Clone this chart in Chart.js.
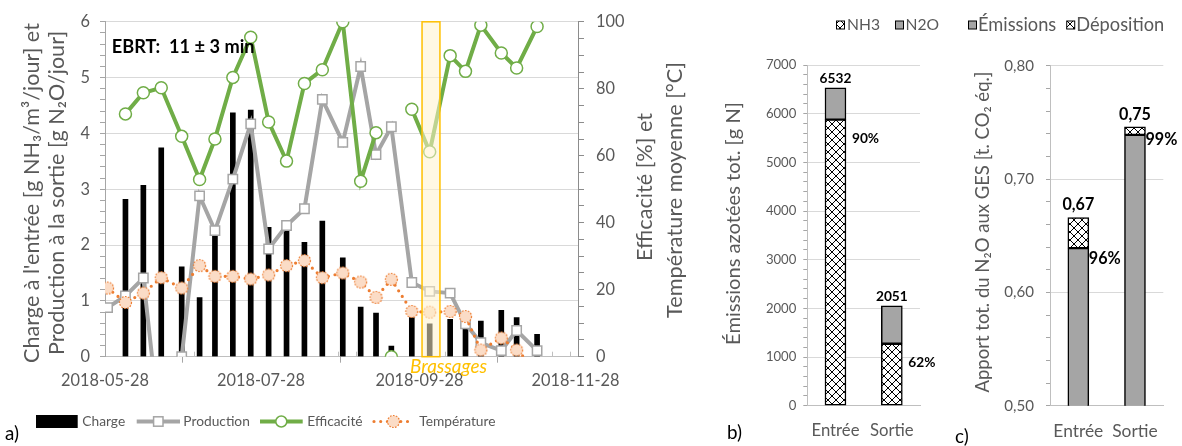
<!DOCTYPE html>
<html><head><meta charset="utf-8">
<script src="https://cdn.jsdelivr.net/npm/chart.js@4.4.1/dist/chart.umd.min.js"></script>
<style>
html,body{margin:0;padding:0;background:#fff;}
body{width:1182px;height:446px;position:relative;overflow:hidden;}
.c{position:absolute;top:0;height:446px;}
canvas{display:block;}
</style></head><body>
<div class="c" style="left:0;width:700px"><canvas id="ca" width="700" height="446"></canvas></div>
<div class="c" style="left:700px;width:250px"><canvas id="cb" width="250" height="446"></canvas></div>
<div class="c" style="left:950px;width:232px"><canvas id="cc" width="232" height="446"></canvas></div>
<script>
// ---------- DATA (panel a) ----------
const ORIGIN = '2018-05-28';
const dates = ['2018-05-29','2018-06-05','2018-06-12','2018-06-19','2018-06-27','2018-07-04','2018-07-10','2018-07-17','2018-07-24','2018-07-31','2018-08-07','2018-08-14','2018-08-21','2018-08-29','2018-09-05','2018-09-11','2018-09-17','2018-09-25','2018-10-02','2018-10-10','2018-10-16','2018-10-22','2018-10-30','2018-11-05','2018-11-13'];
const charge = [null,2.82,3.07,3.74,1.61,1.06,2.25,4.37,4.42,2.32,2.27,2.05,2.43,1.77,0.89,0.78,0.19,0.70,0.59,0.67,0.50,0.64,0.83,0.70,0.40];
const production = [0.88,1.09,1.41,-1.5,0.00,2.88,2.26,3.18,4.17,1.93,2.35,2.65,4.61,3.84,5.20,3.62,4.12,1.33,1.17,1.14,0.59,0.25,0.11,0.47,0.11];
const efficacite = [null,72.5,78.8,80.3,65.8,52.9,65.0,83.4,95.4,70.1,58.4,81.6,85.7,100.0,52.4,66.9,0,73.9,61.2,89.9,85.2,99.0,90.7,86.2,98.6];
const temperature = [20.5,16.2,19.0,23.6,20.5,27.2,24.0,24.0,23.2,24.4,27.2,28.7,23.6,25.0,22.3,17.7,23.1,13.5,13.3,13.5,12.0,2.0,5.6,2.0,-4];
const xTickLabels = ['2018-05-28','2018-07-28','2018-09-28','2018-11-28'];
const xEnd = '2018-11-29';
const brassages = ['2018-09-29','2018-10-06'];
const yLeftTicks = [0,1,2,3,4,5,6];
const yRightTicks = [0,20,40,60,80,100];
// ---------- DATA (panel b) ----------
const catsB = ['Entrée','Sortie'];
const nh3 = [5879, 1272];
const n2o = [653, 779];
// ---------- DATA (panel c) ----------
const catsC = ['Entrée','Sortie'];
const emissions = [0.639, 0.739];
const deposition = [0.027, 0.007];

// ---------- helpers ----------
const FAM = 'Lato';
const GREY = '#595959';
const dayOf = d => Math.round((Date.parse(d) - Date.parse(ORIGIN)) / 86400000);
const mctx = document.createElement('canvas').getContext('2d');
function fit(text, w, weight, style) {
  mctx.font = (style||'normal') + ' ' + (weight||'normal') + ' 100px ' + FAM;
  return 100 * w / mctx.measureText(text).width;
}
function tw(text, font) { mctx.font = font; return mctx.measureText(text).width; }
function f(size, weight, style) { return (style||'normal') + ' ' + (weight||'normal') + ' ' + size.toFixed(2) + 'px ' + FAM; }
function txt(ctx, s, x, y, font, color, align, rot) {
  ctx.save(); ctx.translate(x, y); if (rot) ctx.rotate(rot);
  ctx.font = font; ctx.fillStyle = color; ctx.textAlign = align || 'left'; ctx.textBaseline = 'middle';
  ctx.fillText(s, 0, 0); ctx.restore();
}
const near = (a, b) => Math.abs(a - b) < 1e-6;
function range(a, b, step) { const r = []; const n = Math.round((b - a) / step); for (let i = 0; i <= n; i++) r.push(Math.round((a + i * step) * 1e6) / 1e6); return r; }
function hatchPattern(ctx) {
  const p = document.createElement('canvas'); p.width = p.height = 8;
  const g = p.getContext('2d'); g.fillStyle = '#fff'; g.fillRect(0, 0, 8, 8);
  g.strokeStyle = '#000'; g.lineWidth = 1; g.beginPath();
  g.moveTo(0, 0); g.lineTo(8, 8); g.moveTo(8, 0); g.lineTo(0, 8); g.stroke();
  return ctx.createPattern(p, 'repeat');
}
function tempMarker() {
  const c = document.createElement('canvas'); c.width = c.height = 15;
  const g = c.getContext('2d');
  g.beginPath(); g.arc(7.5, 7.5, 6, 0, Math.PI * 2); g.fillStyle = '#fbdcc6'; g.fill();
  g.setLineDash([1.6, 1.4]); g.strokeStyle = '#ed7d31'; g.lineWidth = 1.2; g.stroke();
  return c;
}
const TM = tempMarker();

// ---------- font sizes ----------
const tickA = fit('2018-05-28', 88);
const titleA = fit("Charge à l'entrée [g NH₃/m³/jour] et", 340);
const titleA2 = fit('Température moyenne [°C]', 256);
const legA = fit('Température', 74) * 1.03;
const ebrtS = fit('EBRT:  11 ± 3 min', 143, 'bold');
const brasS = fit('Brassages', 77, 'normal', 'italic');
const panelS = fit('b)', 15);
const tickB = fit('7000', 29) * 1.05;
const catB = fit('Entrée', 48);
const titleB = fit('Émissions azotées tot. [g N]', 243);
const legB = fit('NH3', 33);
const lblB = fit('6532', 30, 'bold') * 1.06;
const tickC = fit('0,80', 28.3) * 1.05;
const catC = fit('Entrée', 50);
const titleC = fit('Apport tot. du N₂O aux GES [t. CO₂ éq.]', 321);
const legC = fit('ÉmissionsDéposition', 166);
const lblC = fit('0,67', 30, 'bold') * 1.06;

Chart.defaults.font.family = FAM;
Chart.defaults.color = GREY;

// ================= PANEL A =================
const xs = dates.map(dayOf);
const pts = arr => xs.map((x, i) => ({x, y: arr[i]}));
const ptsVisible = arr => xs.map((x, i) => ({x, y: (arr[i] === null || arr[i] < 0) ? null : arr[i]}));
const clipBottom = {left: false, top: false, right: false, bottom: 0};

const panelA = {
  id: 'panelA',
  beforeDatasetsDraw(chart) {
    const {ctx, scales: {x}, chartArea: a} = chart;
    ctx.save(); ctx.strokeStyle = '#bfbfbf'; ctx.lineWidth = 1;
    for (let d = 7; d < 185; d += 7) {
      const px = Math.round(x.getPixelForValue(d)) + 0.5;
      ctx.beginPath(); ctx.moveTo(px, a.bottom); ctx.lineTo(px, a.bottom - 5); ctx.stroke();
    }
    ctx.restore();
  },
  afterDatasetsDraw(chart) {
    const {ctx, scales: {x}, chartArea: a} = chart;
    const x0 = x.getPixelForValue(dayOf(brassages[0])), x1 = x.getPixelForValue(dayOf(brassages[1]));
    ctx.save();
    ctx.fillStyle = 'rgba(255,242,204,0.55)';
    ctx.fillRect(x0, a.top, x1 - x0, a.bottom - a.top);
    ctx.strokeStyle = '#ffc000'; ctx.lineWidth = 1.5;
    ctx.strokeRect(x0, a.top, x1 - x0, a.bottom - a.top);
    ctx.restore();
    txt(ctx, 'Brassages', x0 - 12, 367, f(brasS, 'normal', 'italic'), '#ffc000', 'left');
  },
  afterDraw(chart) {
    const ctx = chart.ctx;
    const R = -Math.PI / 2;
    txt(ctx, "Charge à l'entrée [g NH₃/m³/jour] et", 32, 193, f(titleA), GREY, 'center', R);
    txt(ctx, 'Production à la sortie [g N₂O/jour]', 57.5, 193, f(titleA), GREY, 'center', R);
    txt(ctx, 'Efficacité [%] et', 645, 187, f(titleA2), GREY, 'center', R);
    txt(ctx, 'Température moyenne [°C]', 675.5, 190, f(titleA2), GREY, 'center', R);
    txt(ctx, 'EBRT:  11 ± 3 min', 111.7, 46.7, f(ebrtS, 'bold'), '#000', 'left');
    txt(ctx, 'a)', 5, 434, f(panelS), '#000', 'left');
    // legend
    const ly = 421.5, lf = f(legA);
    ctx.save();
    ctx.fillStyle = '#000'; ctx.fillRect(36, 415, 41.7, 13);
    txt(ctx, 'Charge', 82.3, ly, lf, GREY);
    ctx.strokeStyle = '#a5a5a5'; ctx.lineWidth = 4;
    ctx.beginPath(); ctx.moveTo(136.7, ly); ctx.lineTo(180, ly); ctx.stroke();
    ctx.fillStyle = '#fff'; ctx.lineWidth = 1.5; ctx.fillRect(153.6, ly - 4.7, 9.4, 9.4); ctx.strokeRect(153.6, ly - 4.7, 9.4, 9.4);
    txt(ctx, 'Production', 183.3, ly, lf, GREY);
    ctx.strokeStyle = '#70ad47'; ctx.lineWidth = 4;
    ctx.beginPath(); ctx.moveTo(260, ly); ctx.lineTo(302.7, ly); ctx.stroke();
    ctx.lineWidth = 1.5; ctx.beginPath(); ctx.arc(281.3, ly, 5.5, 0, Math.PI * 2); ctx.fill(); ctx.stroke();
    txt(ctx, 'Efficacité', 307.3, ly, lf, GREY);
    ctx.strokeStyle = '#ed7d31'; ctx.lineWidth = 3.2; ctx.lineCap = 'round'; ctx.setLineDash([0, 6.7]);
    ctx.beginPath(); ctx.moveTo(374, ly); ctx.lineTo(413.3, ly); ctx.stroke();
    ctx.setLineDash([]);
    ctx.drawImage(TM, 393.5 - 7.5, ly - 7.5);
    txt(ctx, 'Température', 419.3, ly, lf, GREY);
    ctx.restore();
  }
};

new Chart(document.getElementById('ca'), {
  type: 'line',
  data: {
    datasets: [
      {type: 'bar', label: 'Charge', data: pts(charge), backgroundColor: '#000', barThickness: 5, yAxisID: 'y', order: 10},
      {label: 'Production', data: pts(production), borderColor: '#a5a5a5', borderWidth: 4, pointRadius: 0, tension: 0, clip: clipBottom, yAxisID: 'y', order: 6},
      {label: 'Production', data: ptsVisible(production), showLine: false, pointStyle: 'rect', pointRadius: 6.6, pointBackgroundColor: '#fff', pointBorderColor: '#a5a5a5', pointBorderWidth: 1.5, yAxisID: 'y', order: 5},
      {label: 'Température', data: pts(temperature), borderColor: '#ed7d31', borderWidth: 3.2, borderDash: [0, 6.7], borderCapStyle: 'round', pointRadius: 0, tension: 0, clip: clipBottom, yAxisID: 'y1', order: 4},
      {label: 'Température', data: ptsVisible(temperature), showLine: false, pointStyle: TM, pointRadius: 7, yAxisID: 'y1', order: 3},
      {label: 'Efficacité', data: pts(efficacite), borderColor: '#70ad47', borderWidth: 4, tension: 0, pointRadius: 6, pointBackgroundColor: '#fff', pointBorderColor: '#70ad47', pointBorderWidth: 1.5, yAxisID: 'y1', order: 1,
        segment: {borderColor: c => (c.p0.parsed.y === 0 || c.p1.parsed.y === 0) ? 'rgba(0,0,0,0)' : undefined}}
    ]
  },
  options: {
    responsive: false, animation: false, events: [],
    layout: {padding: {left: 0, top: 17, right: 0, bottom: 0}},
    plugins: {legend: {display: false}, tooltip: {enabled: false}},
    scales: {
      x: {type: 'linear', min: 0, max: dayOf(xEnd), offset: false,
        afterBuildTicks: s => { s.ticks = xTickLabels.map(d => ({value: dayOf(d)})); },
        afterFit: s => { s.height = 89.3; },
        ticks: {autoSkip: false, maxRotation: 0, padding: 8, color: GREY, font: {size: tickA},
          callback: v => { const i = xTickLabels.findIndex(d => dayOf(d) === v); return i >= 0 ? xTickLabels[i] : ''; }},
        grid: {drawOnChartArea: false, tickLength: 6, tickColor: '#a6a6a6'},
        border: {color: '#bfbfbf'}
      },
      y: {position: 'left', min: yLeftTicks[0], max: yLeftTicks[yLeftTicks.length - 1],
        afterBuildTicks: s => { s.ticks = range(0, 6, 0.2).map(v => ({value: v})); },
        afterFit: s => { s.width = 105; },
        ticks: {autoSkip: false, padding: 10, color: GREY, font: {size: tickA},
          callback: v => yLeftTicks.some(t => near(t, v)) ? String(Math.round(v)) : ''},
        grid: {color: c => (c.tick && c.tick.value > 0 && yLeftTicks.some(t => near(t, c.tick.value))) ? '#d9d9d9' : 'rgba(0,0,0,0)',
          tickColor: '#a6a6a6', tickLength: 5},
        border: {color: '#a6a6a6'}
      },
      y1: {position: 'right', min: 0, max: 100,
        afterBuildTicks: s => { s.ticks = range(0, 100, 5).map(v => ({value: v})); },
        afterFit: s => { s.width = 122; },
        ticks: {autoSkip: false, padding: 12, color: GREY, font: {size: tickA},
          callback: v => yRightTicks.some(t => near(t, v)) ? String(Math.round(v)) : ''},
        grid: {drawOnChartArea: false, tickColor: '#8c8c8c', tickLength: 6},
        border: {color: '#8c8c8c'}
      }
    }
  },
  plugins: [panelA]
});

// ================= PANEL B =================
const ctxB = document.getElementById('cb').getContext('2d');
const hatchB = hatchPattern(ctxB);
const yTicksB = range(0, 7000, 1000);
const panelB = {
  id: 'panelB',
  afterDraw(chart) {
    const ctx = chart.ctx;
    txt(ctx, 'Émissions azotées tot. [g N]', 33, 223.5, f(titleB), GREY, 'center', -Math.PI / 2);
    txt(ctx, 'b)', 27, 433, f(panelS), '#000', 'left');
    // legend
    ctx.save(); ctx.lineWidth = 1; ctx.strokeStyle = '#000';
    ctx.fillStyle = hatchB; ctx.fillRect(136.5, 21, 8, 8); ctx.strokeRect(136.5, 21, 8, 8);
    txt(ctx, 'NH3', 147, 25, f(legB), GREY);
    ctx.fillStyle = '#a5a5a5'; ctx.fillRect(195.5, 21, 8, 8); ctx.strokeRect(195.5, 21, 8, 8);
    txt(ctx, 'N2O', 205.5, 25, f(legB), GREY);
    ctx.restore();
    // data labels
    const m0 = chart.getDatasetMeta(0).data, m1 = chart.getDatasetMeta(1).data;
    m1.forEach((el, i) => {
      const tot = nh3[i] + n2o[i];
      txt(ctx, String(Math.round(tot)), el.x, el.y - 9, f(lblB, 'bold'), '#000', 'center');
      const pct = Math.round(100 * nh3[i] / tot) + '%';
      txt(ctx, pct, el.x + el.width / 2 + 6, m0[i].y + 19, f(lblB, 'bold'), '#000', 'left');
    });
  }
};
new Chart(ctxB, {
  type: 'bar',
  data: {labels: catsB, datasets: [
    {label: 'NH3', data: nh3, backgroundColor: hatchB, borderColor: '#000', borderWidth: 1.5, borderSkipped: false, barThickness: 21},
    {label: 'N2O', data: n2o, backgroundColor: '#a5a5a5', borderColor: '#000', borderWidth: 1.5, borderSkipped: false, barThickness: 21}
  ]},
  options: {
    responsive: false, animation: false, events: [],
    layout: {padding: {left: 0, top: 65, right: 30, bottom: 0}},
    plugins: {legend: {display: false}, tooltip: {enabled: false}},
    scales: {
      x: {stacked: true, afterFit: s => { s.height = 40.3; },
        grid: {display: false, drawTicks: false}, border: {color: '#bfbfbf'},
        ticks: {padding: 15, color: GREY, font: {size: catB}}},
      y: {stacked: true, min: 0, max: 7000,
        afterBuildTicks: s => { s.ticks = range(0, 7000, 200).map(v => ({value: v})); },
        afterFit: s => { s.width = 107.3; },
        ticks: {autoSkip: false, padding: 7, color: GREY, font: {size: tickB},
          callback: v => yTicksB.some(t => near(t, v)) ? String(v) : ''},
        grid: {color: c => (c.tick && c.tick.value > 0 && yTicksB.some(t => near(t, c.tick.value))) ? '#d9d9d9' : 'rgba(0,0,0,0)',
          tickColor: '#a6a6a6', tickLength: 4},
        border: {color: '#bfbfbf'}}
    }
  },
  plugins: [panelB]
});

// ================= PANEL C =================
const ctxC = document.getElementById('cc').getContext('2d');
const hatchC = hatchPattern(ctxC);
const yTicksC = range(0.5, 0.8, 0.1);
const fmtC = v => v.toFixed(2).replace('.', ',');
const panelC = {
  id: 'panelC',
  afterDraw(chart) {
    const ctx = chart.ctx;
    txt(ctx, 'Apport tot. du N₂O aux GES [t. CO₂ éq.]', 33, 232, f(titleC), GREY, 'center', -Math.PI / 2);
    txt(ctx, 'c)', 5, 437, f(panelS), '#000', 'left');
    const lf = f(legC);
    let x = 18;
    ctx.save(); ctx.lineWidth = 1; ctx.strokeStyle = '#000';
    ctx.fillStyle = '#a5a5a5'; ctx.fillRect(x + 0.5, 21, 8, 8); ctx.strokeRect(x + 0.5, 21, 8, 8);
    txt(ctx, 'Émissions', x + 10, 25, lf, GREY);
    x += 10 + tw('Émissions', lf) + 10;
    ctx.fillStyle = hatchC; ctx.fillRect(x + 0.5, 21, 8, 8); ctx.strokeRect(x + 0.5, 21, 8, 8);
    txt(ctx, 'Déposition', x + 10, 25, lf, GREY);
    ctx.restore();
    const m0 = chart.getDatasetMeta(0).data, m1 = chart.getDatasetMeta(1).data;
    const pctDy = [11, 4.5];
    m1.forEach((el, i) => {
      const tot = emissions[i] + deposition[i];
      txt(ctx, fmtC(tot + 1e-9), el.x, el.y - 12.5, f(lblC, 'bold'), '#000', 'center');
      const pct = Math.round(100 * emissions[i] / tot) + '%';
      txt(ctx, pct, el.x + el.width / 2, m0[i].y + pctDy[i], f(lblC, 'bold'), '#000', 'left');
    });
  }
};
new Chart(ctxC, {
  type: 'bar',
  data: {labels: catsC, datasets: [
    {label: 'Émissions', data: emissions, backgroundColor: '#a5a5a5', borderColor: '#000', borderWidth: 1.5, borderSkipped: false, barThickness: 21},
    {label: 'Déposition', data: deposition, backgroundColor: hatchC, borderColor: '#000', borderWidth: 1.5, borderSkipped: false, barThickness: 21}
  ]},
  options: {
    responsive: false, animation: false, events: [],
    layout: {padding: {left: 0, top: 65.7, right: 18.7, bottom: 0}},
    plugins: {legend: {display: false}, tooltip: {enabled: false}},
    scales: {
      x: {stacked: true, afterFit: s => { s.height = 40.3; },
        grid: {display: false, drawTicks: false}, border: {color: '#bfbfbf'},
        ticks: {padding: 15, color: GREY, font: {size: catC}}},
      y: {stacked: true, min: 0.5, max: 0.8,
        afterBuildTicks: s => { s.ticks = range(0.5, 0.8, 0.02).map(v => ({value: v})); },
        afterFit: s => { s.width = 100; },
        ticks: {autoSkip: false, padding: 12, color: GREY, font: {size: tickC},
          callback: v => yTicksC.some(t => near(t, v)) ? fmtC(v) : ''},
        grid: {color: c => (c.tick && c.tick.value > 0.5 + 1e-6 && yTicksC.some(t => near(t, c.tick.value))) ? '#d9d9d9' : 'rgba(0,0,0,0)',
          tickColor: '#a6a6a6', tickLength: 4},
        border: {color: '#bfbfbf'}}
    }
  },
  plugins: [panelC]
});
</script>
</body></html>
